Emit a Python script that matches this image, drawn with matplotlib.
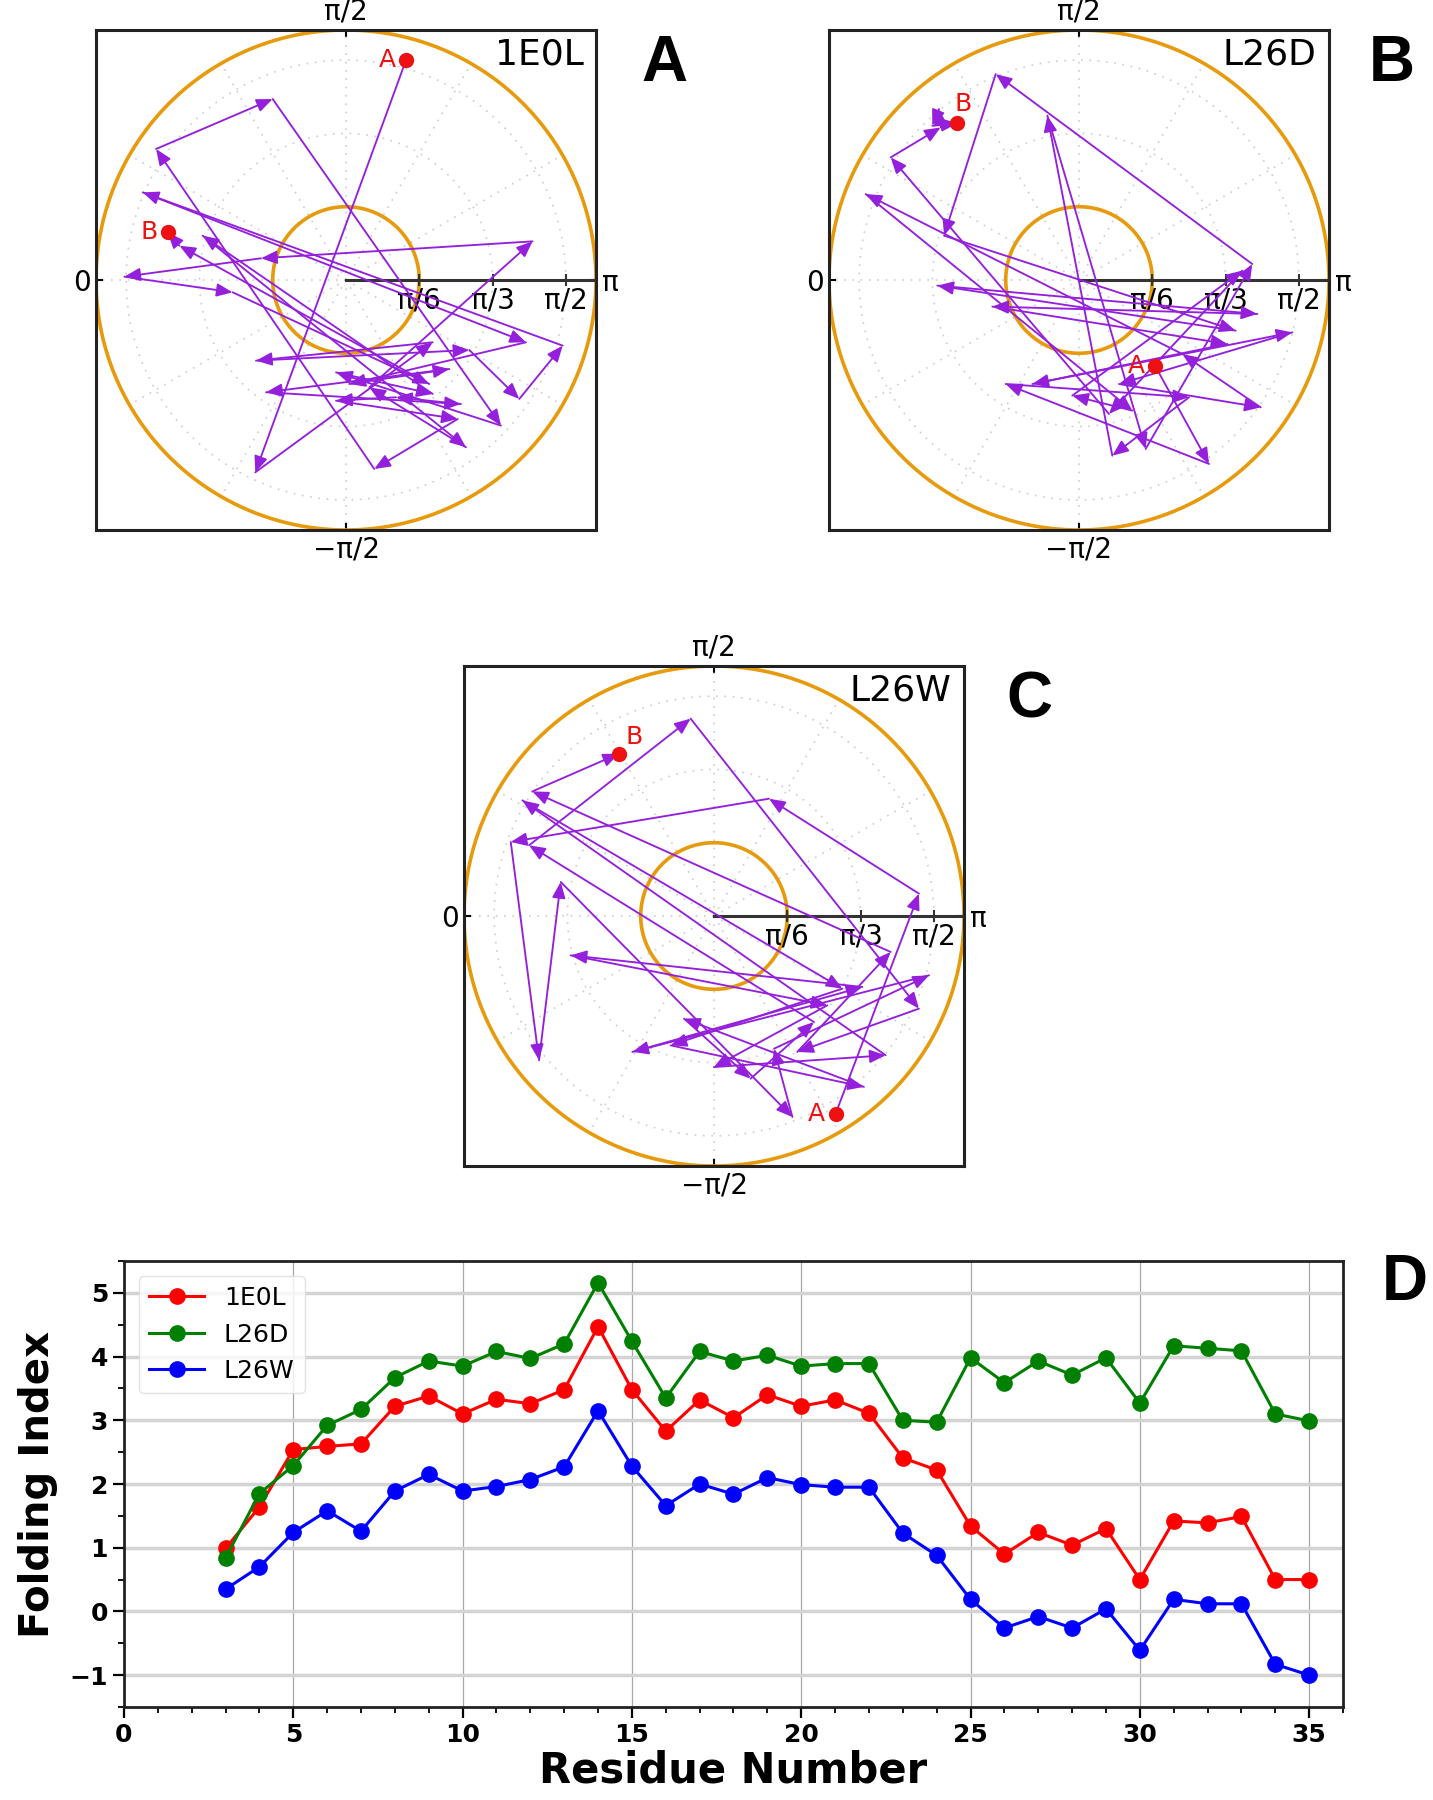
import numpy as np
import matplotlib
matplotlib.use('Agg')
import matplotlib.pyplot as plt
from matplotlib.ticker import MultipleLocator

# ---- polar panels: path points (x, y) in radian units, first = A, last = B
R_MAX = 1.786
R_TICKS = [np.pi / 6, np.pi / 3, np.pi / 2]
R_TICK_LABELS = ['π/6', 'π/3', 'π/2']
INNER_R = np.pi / 6

a_x = [0.429, -0.648, 0.619, -0.643, 0.881, 1.238, 1.548, -1.452, 1.286, 0.024,
       0.738, -0.571, 0.821, 0.357, -0.071, 0.798, 0.202, -1.357, -0.524, 1.107,
       -0.071, 0.619, -1.024, 0.857, 0.167, 1.333, -0.607, -1.583, -0.810, 0.595,
       -1.190, -1.274]
a_y = [1.571, -1.374, -0.445, -0.576, -0.500, -0.850, -0.469, 0.626, -0.445, -0.743,
       -0.636, -0.802, -0.886, -0.838, -0.862, -0.993, -1.350, 0.936, 1.293, -1.040,
       -0.660, -0.814, 0.317, -1.195, -0.767, 0.276, 0.155, 0.024, -0.088, -0.743,
       0.245, 0.340]

b_x = [0.543, 0.929, -0.524, 0.786, 0.238, -0.226, 0.476, 1.238, -0.595, -0.964,
       1.119, -1.012, 1.274, -0.619, 1.060, -0.333, 1.524, 0.286, 1.298, 0.738,
       -1.524, 0.381, -0.048, 1.167, 0.214, -1.345, -0.988, -1.000, -1.048, -0.869]
b_y = [-0.612, -1.314, -0.743, -0.838, -1.255, 1.174, -1.207, 0.114, 1.471, 0.317,
       -0.362, -0.040, -0.243, -0.190, -0.457, -0.743, -0.374, -0.743, -0.910, -0.529,
       0.614, -0.933, -0.826, 0.067, -0.957, 0.876, 1.090, 1.221, 1.102, 1.119]

c_x = [0.869, 1.464, 0.393, -1.452, -1.250, -1.095, 0.560, 0.429, 1.536, -0.583,
       1.060, -1.024, 0.810, 0.000, 1.226, -1.369, 0.917, -0.310, 1.071, -0.214,
       0.262, 0.714, -1.321, -0.167, 1.464, 0.595, 1.262, -1.298, -0.679]
c_y = [-1.412, 0.160, 0.838, 0.529, -1.031, 0.243, -1.436, -0.948, -0.424, -0.971,
       -0.507, -0.281, -0.638, -1.079, -0.995, 0.826, -0.519, -0.924, -1.221, -0.733,
       -1.162, -0.757, 0.505, 1.410, -0.662, -0.971, -0.257, 0.890, 1.160]

# ---- panel D: folding index per residue
residues = list(range(3, 36))
fi_1e0l = [0.99, 1.64, 2.54, 2.59, 2.63, 3.22, 3.38, 3.10, 3.33, 3.26, 3.48, 4.47,
           3.48, 2.83, 3.32, 3.04, 3.40, 3.22, 3.32, 3.11, 2.41, 2.22, 1.34, 0.90,
           1.24, 1.04, 1.30, 0.50, 1.42, 1.39, 1.49, 0.50, 0.50]
fi_l26d = [0.84, 1.85, 2.29, 2.92, 3.17, 3.67, 3.93, 3.85, 4.08, 3.97, 4.20, 5.16,
           4.24, 3.35, 4.08, 3.93, 4.02, 3.85, 3.89, 3.89, 3.00, 2.97, 3.98, 3.59,
           3.93, 3.71, 3.98, 3.27, 4.17, 4.13, 4.09, 3.10, 2.99]
fi_l26w = [0.35, 0.70, 1.24, 1.58, 1.26, 1.89, 2.15, 1.89, 1.96, 2.07, 2.27, 3.15,
           2.28, 1.66, 2.00, 1.84, 2.10, 1.99, 1.95, 1.95, 1.23, 0.88, 0.19, -0.26,
           -0.08, -0.26, 0.04, -0.61, 0.19, 0.12, 0.12, -0.83, -1.00]

PURPLE = '#9420dc'
ORANGE = '#e69a0c'
GRID = '#ccccd8'

fig = plt.figure(figsize=(14.33, 18.0), dpi=100)


def polar_panel(rect, xs, ys, name, a_lab, b_lab):
    ax = fig.add_axes(rect)
    ax.set_xlim(-R_MAX, R_MAX)
    ax.set_ylim(-R_MAX, R_MAX)
    for s in ax.spines.values():
        s.set_linewidth(2.2)
        s.set_color('#222222')

    # faint dotted grid
    t = np.linspace(0, 2 * np.pi, 400)
    for r in R_TICKS:
        ax.plot(r * np.cos(t), r * np.sin(t), ls=(0, (1, 4)), color=GRID, lw=1.2, zorder=1)
    for ang in np.deg2rad(np.arange(0, 360, 30)):
        ax.plot([0, R_MAX * np.cos(ang)], [0, R_MAX * np.sin(ang)], ls=(0, (1, 4)),
                color=GRID, lw=1.2, zorder=1)

    # orange rings
    ax.plot(R_MAX * np.cos(t), R_MAX * np.sin(t), color=ORANGE, lw=2.6, zorder=2)
    ax.plot(INNER_R * np.cos(t), INNER_R * np.sin(t), color=ORANGE, lw=2.6, zorder=2)

    # radial axis
    ax.plot([0, R_MAX], [0, 0], color='#333333', lw=2.2, zorder=3)
    ax.plot(R_TICKS, [0] * len(R_TICKS), ls='none', marker='|', ms=9, mew=1.5,
            color='#333333', zorder=3)
    for r, lab in zip(R_TICKS, R_TICK_LABELS):
        ax.text(r, -0.045, lab, ha='center', va='top', fontsize=20, zorder=4)

    # path
    for i in range(len(xs) - 1):
        ax.annotate('', xy=(xs[i + 1], ys[i + 1]), xytext=(xs[i], ys[i]),
                    arrowprops=dict(arrowstyle='-|>,head_length=0.6,head_width=0.25',
                                    color=PURPLE, lw=1.35, mutation_scale=16,
                                    shrinkA=0, shrinkB=0), zorder=5)
    ax.plot([xs[0], xs[-1]], [ys[0], ys[-1]], 'o', color='#ee1111', ms=10, zorder=6)
    for (px, py), (lab, dx, dy, ha, va) in zip([(xs[0], ys[0]), (xs[-1], ys[-1])],
                                               [a_lab, b_lab]):
        ax.text(px + dx, py + dy, lab, color='#ee1111', fontsize=18, ha=ha, va=va,
                zorder=6)

    ax.text(0.975, 0.985, name, transform=ax.transAxes, ha='right', va='top',
            fontsize=26)

    # theta labels round the frame
    ax.set_xticks([0], labels=['−π/2'])
    ax.set_yticks([0], labels=['0'])
    ax.tick_params(direction='in', length=5, width=1.5, labelsize=20, pad=4)
    top = ax.secondary_xaxis('top')
    top.set_xticks([0], labels=['π/2'])
    top.tick_params(direction='in', length=5, width=1.5, labelsize=20, pad=3)
    right = ax.secondary_yaxis('right')
    right.set_yticks([0], labels=['π'])
    right.tick_params(direction='in', length=5, width=1.5, labelsize=20, pad=4)
    for sax in (top, right):
        for s in sax.spines.values():
            s.set_visible(False)
    return ax


polar_panel([96 / 1433, 1 - 530 / 1800, 500 / 1433, 500 / 1800], a_x, a_y, '1E0L',
            ('A', -0.07, 0.0, 'right', 'center'), ('B', -0.07, 0.0, 'right', 'center'))
polar_panel([829 / 1433, 1 - 530 / 1800, 500 / 1433, 500 / 1800], b_x, b_y, 'L26D',
            ('A', -0.07, 0.0, 'right', 'center'), ('B', 0.04, 0.05, 'center', 'bottom'))
polar_panel([464 / 1433, 1 - 1166 / 1800, 500 / 1433, 500 / 1800], c_x, c_y, 'L26W',
            ('A', -0.08, 0.0, 'right', 'center'), ('B', 0.05, 0.03, 'left', 'bottom'))

# ---- panel D
axd = fig.add_axes([124 / 1433, 1 - 1707 / 1800, 1219 / 1433, 446 / 1800])
axd.plot(residues, fi_1e0l, '-o', color='red', lw=2.2, ms=11, label='1E0L', zorder=4)
axd.plot(residues, fi_l26d, '-o', color='green', lw=2.2, ms=11, label='L26D', zorder=4)
axd.plot(residues, fi_l26w, '-o', color='blue', lw=2.2, ms=11, label='L26W', zorder=4)
axd.set_xlim(0, 36)
axd.set_ylim(-1.5, 5.5)
axd.set_xticks(range(0, 36, 5))
axd.set_yticks(range(-1, 6))
axd.xaxis.set_minor_locator(MultipleLocator(1))
axd.yaxis.set_minor_locator(MultipleLocator(0.5))
axd.grid(axis='x', which='major', color='#a8a8a8', lw=0.9, zorder=0)
axd.grid(axis='y', which='major', color='#d4d4d4', lw=2.5, zorder=0)
axd.tick_params(which='major', direction='out', length=8, width=1.6, labelsize=18)
axd.tick_params(which='minor', direction='out', length=4.5, width=1.3)
for lbl in axd.get_xticklabels() + axd.get_yticklabels():
    lbl.set_fontweight('bold')
for s in axd.spines.values():
    s.set_linewidth(2.0)
    s.set_color('#222222')
axd.set_xlabel('Residue Number', fontsize=30, fontweight='bold', labelpad=2)
axd.set_ylabel('Folding Index', fontsize=29, fontweight='bold', labelpad=8)
axd.legend(loc='upper left', fontsize=18, frameon=True, edgecolor='#dddddd',
           handlelength=2.2, borderaxespad=0.6, labelspacing=0.5)

# panel letters
for lab, px, py in [('A', 664, 64), ('B', 1392, 64), ('C', 1029, 700), ('D', 1405, 1283)]:
    fig.text(px / 1433, 1 - py / 1800, lab, fontsize=46, fontweight='bold',
             family='Liberation Sans', ha='center', va='center')

fig.savefig('out.png', dpi=100)
